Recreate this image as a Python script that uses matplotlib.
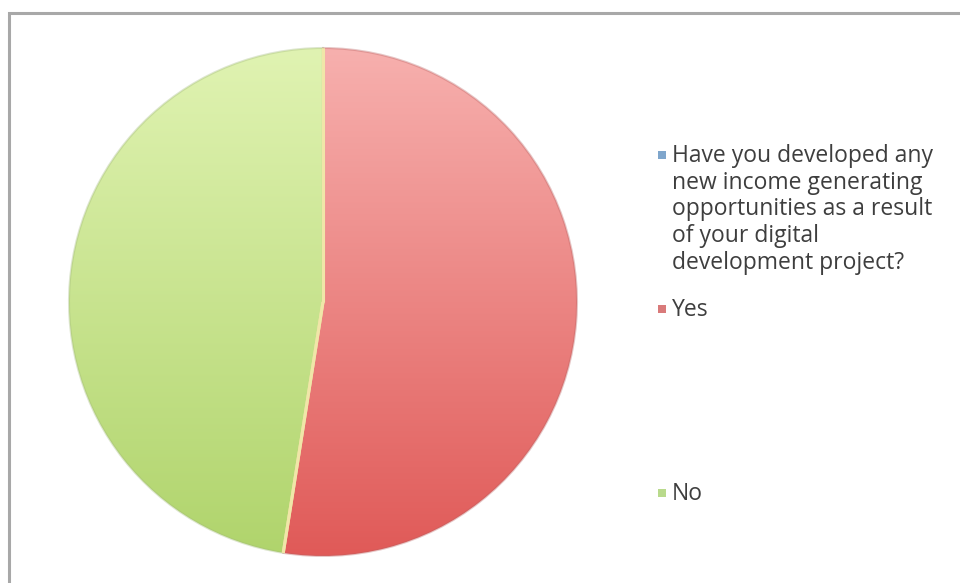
import numpy as np
import matplotlib
matplotlib.use("Agg")
import matplotlib.pyplot as plt
from matplotlib.patches import Rectangle
from matplotlib.colors import LinearSegmentedColormap, to_rgba

plt.rcParams['font.family'] = ['Open Sans', 'DejaVu Sans']

categories = [
    "Have you developed any\nnew income generating\nopportunities as a result\nof your digital\ndevelopment project?",
    "Yes",
    "No",
]
values = [0, 21, 19]
legend_colors = ["#7fa6cc", "#d97a7a", "#b9da8c"]
# top / bottom shades for the gradient fill of each slice
grad_top = ["#9bbbe0", "#f7b0ae", "#e0f3b2"]
grad_bottom = ["#5a86b8", "#e05a58", "#b0d46c"]
rim_colors = ["#5a86b8", "#b86060", "#a0b878"]

W, H = 960, 583
fig = plt.figure(figsize=(W / 100, H / 100), dpi=100)
fig.patch.set_facecolor("white")

# chart frame (only top and left edges fall inside the image)
fig.patches.append(Rectangle((9 / W, 0 - 0.1), 1.2, (H - 13) / H + 0.1,
                             transform=fig.transFigure, fill=False,
                             edgecolor="#a8a8a8", linewidth=2.2))

cx, cy, r = 323, 302, 254
ax = fig.add_axes([(cx - r) / W, (H - cy - r) / H, 2 * r / W, 2 * r / H])
ax.axis("off")

wedges, _ = ax.pie(values, startangle=90, counterclock=False, radius=1,
                   center=(0, 0), frame=False,
                   wedgeprops=dict(facecolor="none", linewidth=1.5))
ax.set_xlim(-1, 1)
ax.set_ylim(-1, 1)

yy = np.linspace(1, 0, 256).reshape(-1, 1)
for w, top, bot, rim, v in zip(wedges, grad_top, grad_bottom, rim_colors, values):
    if v == 0:
        w.set_visible(False)
        continue
    w.set_zorder(3)
    w.set_edgecolor(to_rgba(rim, 0.35))
    cmap = LinearSegmentedColormap.from_list("g", [bot, top])
    im = ax.imshow(yy, cmap=cmap, extent=[-1, 1, -1, 1], origin="upper",
                   aspect="auto", zorder=2, interpolation="bilinear")
    im.set_clip_path(w)

# pale separator lines between the slices
for w, v in zip(wedges, values):
    if v == 0:
        continue
    for th in (w.theta1, w.theta2):
        t = np.deg2rad(th)
        ax.plot([0, np.cos(t)], [0, np.sin(t)], color="#f0e6a8",
                lw=2.2, zorder=4, solid_capstyle="butt")
ax.set_xlim(-1, 1)
ax.set_ylim(-1, 1)

# legend entries
entry_y = [155, 309, 493]
for lab, col, y in zip(categories, legend_colors, entry_y):
    fig.patches.append(Rectangle((658 / W, (H - y - 4) / H), 8 / W, 8 / H,
                                 transform=fig.transFigure,
                                 facecolor=col, edgecolor="none"))
    fig.text(672 / W, (H - y + 11) / H, lab, fontsize=16.5, color="#3e3e3e",
             va="top", ha="left", linespacing=1.15,
             transform=fig.transFigure)

fig.savefig("out.png", dpi=100)
